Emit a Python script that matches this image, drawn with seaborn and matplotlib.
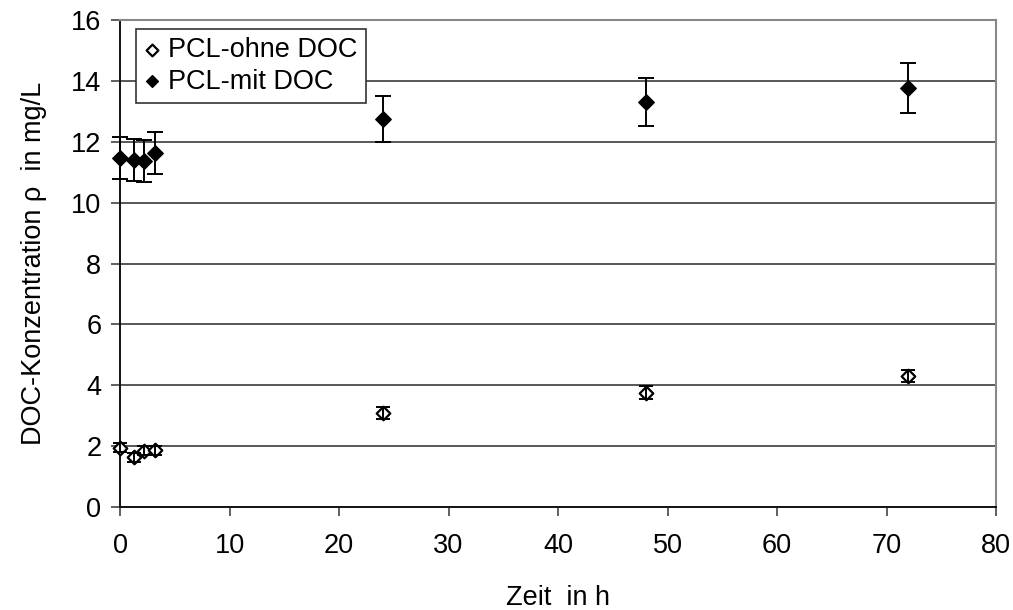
import matplotlib
matplotlib.use("Agg")
import matplotlib.pyplot as plt
import seaborn as sns
import pandas as pd

# Zeitpunkte in h
zeit = [0, 1.3, 2.2, 3.2, 24, 48, 72]

# PCL ohne DOC
ohne_doc = [1.95, 1.63, 1.85, 1.87, 3.1, 3.76, 4.3]
ohne_err = [0.15, 0.15, 0.15, 0.15, 0.2, 0.2, 0.2]

# PCL mit DOC
mit_doc = [11.47, 11.4, 11.37, 11.63, 12.75, 13.31, 13.76]
mit_err = [0.69, 0.68, 0.68, 0.68, 0.75, 0.8, 0.83]

df = pd.DataFrame({
    "Zeit": zeit * 2,
    "Wert": ohne_doc + mit_doc,
    "Serie": ["PCL-ohne DOC"] * len(zeit) + ["PCL-mit DOC"] * len(zeit),
})

sns.set_style("white")
plt.rcParams["font.family"] = ["Liberation Sans", "DejaVu Sans"]
plt.rcParams["text.color"] = "black"
plt.rcParams["axes.labelcolor"] = "black"
plt.rcParams["xtick.labelcolor"] = "black"
plt.rcParams["ytick.labelcolor"] = "black"

fig = plt.figure(figsize=(10.13, 6.1), dpi=100)
ax = fig.add_axes([120 / 1013, 1 - 507 / 610, 876 / 1013, 487 / 610])

# Punkte
sub_o = df[df["Serie"] == "PCL-ohne DOC"]
sub_m = df[df["Serie"] == "PCL-mit DOC"]
sns.scatterplot(data=sub_o, x="Zeit", y="Wert", marker="D", s=48,
                facecolor="white", edgecolor="black", linewidth=1.6,
                ax=ax, zorder=3, clip_on=False, label="PCL-ohne DOC")
sns.scatterplot(data=sub_m, x="Zeit", y="Wert", marker="D", s=62,
                color="black", edgecolor="black", linewidth=1,
                ax=ax, zorder=4, clip_on=False, label="PCL-mit DOC")

# Fehlerbalken
ax.errorbar(zeit, ohne_doc, yerr=ohne_err, fmt="none", ecolor="black",
            elinewidth=1.4, capsize=5, capthick=1.4, zorder=4, clip_on=False)
ax.errorbar(zeit, mit_doc, yerr=mit_err, fmt="none", ecolor="black",
            elinewidth=1.4, capsize=5.6, capthick=1.4, zorder=3, clip_on=False)

ax.set_xlim(0, 80)
ax.set_ylim(0, 16)
ax.set_xticks(range(0, 81, 10))
ax.set_yticks(range(0, 17, 2))

for y in range(2, 17, 2):
    ax.axhline(y, color="#2a2a2a", lw=1.1, zorder=1)

for side in ["top", "right"]:
    ax.spines[side].set_color("#888888")
    ax.spines[side].set_linewidth(1.5)
for side in ["left", "bottom"]:
    ax.spines[side].set_color("#111111")
    ax.spines[side].set_linewidth(1.4)

ax.tick_params(axis="both", direction="out", length=6.5, width=1.2,
               color="#444444", labelsize=19.5)
ax.tick_params(axis="x", bottom=True, pad=12)
ax.tick_params(axis="y", left=True, pad=7)

ax.set_xlabel("Zeit  in h", fontsize=19.5, labelpad=19)
ax.set_ylabel("DOC-Konzentration ρ  in mg/L", fontsize=19.5, labelpad=17)

leg = ax.legend(loc="upper left", bbox_to_anchor=(16 / 876, 1 - 9 / 487),
                fontsize=19.5, frameon=True, fancybox=False, borderpad=0.3,
                handletextpad=0.3, handlelength=0.6, labelspacing=0.2,
                borderaxespad=0)
leg.get_frame().set_edgecolor("#333333")
leg.get_frame().set_linewidth(1.2)
leg.get_frame().set_alpha(1)
for h in leg.legend_handles:
    h.set_sizes([36])

fig.savefig("out.png", dpi=100)
